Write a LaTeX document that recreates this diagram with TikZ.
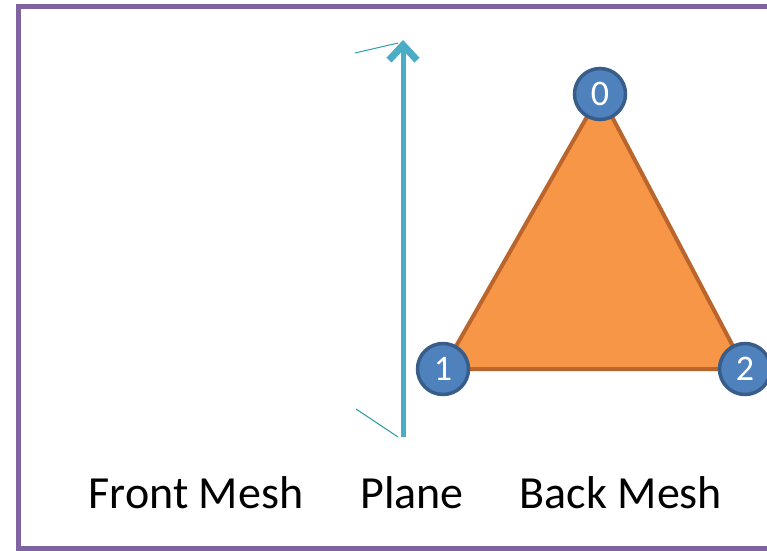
\documentclass[tikz,border=0pt]{standalone}
\usepackage{fontspec}
\setmainfont{Carlito}
\usetikzlibrary{arrows.meta}
\definecolor{framepurple}{HTML}{8064A2}
\definecolor{planeblue}{HTML}{4BACC6}
\definecolor{thinteal}{HTML}{2E9EA8}
\definecolor{triorange}{HTML}{F79646}
\definecolor{triedge}{HTML}{B9652C}
\definecolor{vfill}{HTML}{4F81BD}
\definecolor{vedge}{HTML}{385D8A}
\tikzset{
  vert/.style={circle, fill=vfill, draw=vedge, line width=3.5pt, minimum size=51pt, inner sep=0pt, text=white, font=\fontsize{36}{38}\selectfont},
  label/.style={font=\fontsize{46}{50}\selectfont, text=black, anchor=base},
  planeline/.style={draw=planeblue, line width=5pt},
  thin/.style={draw=thinteal, line width=1pt}
}
\begin{document}
\begin{tikzpicture}[x=1pt,y=-1pt]
\useasboundingbox (0,0) rectangle (767,550);
\clip (0,0) rectangle (767,550);
\fill[white] (0,0) rectangle (767,550);
\draw[framepurple, line width=5pt] (18,6) rectangle (820,548);
% triangle
\coordinate (t0) at (600,94);
\coordinate (t1) at (443,369);
\coordinate (t2) at (745,369);
\filldraw[fill=triorange, draw=triedge, line width=4pt, line join=round] (t0) -- (t1) -- (t2) -- cycle;
\node[vert] (c0) at (t0) {0};
\node[vert] (c1) at (t1) {1};
\node[vert] (c2) at (t2) {2};
% plane
\coordinate (pb) at (403,437);
\coordinate (pt) at (403,40);
\draw[planeline, -{Straight Barb[length=15pt,width=28pt,line width=7pt]}] (pb) -- (pt);
\coordinate (ta) at (355,53);
\coordinate (tb) at (398,43);
\coordinate (ba) at (356,409);
\coordinate (bb) at (398,437);
\draw[thin] (ta) -- (tb);
\draw[thin] (ba) -- (bb);
% labels
\node[label] (fm) at (196,508) {Front Mesh};
\node[label] (pl) at (412,508) {Plane};
\node[label] (bm) at (621,508) {Back Mesh};
\end{tikzpicture}
\end{document}
